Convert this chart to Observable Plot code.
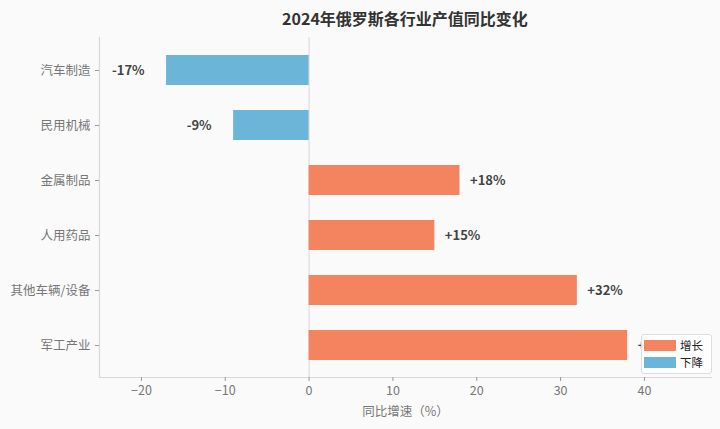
<!DOCTYPE html>
<html><head><meta charset="utf-8">
<script src="https://cdn.jsdelivr.net/npm/d3@7"></script>
<script src="https://cdn.jsdelivr.net/npm/@observablehq/plot@0.6"></script>
<style>
html,body{margin:0;padding:0;background:#fafafa;}
#wrap{position:relative;width:720px;height:429px;background:#fafafa;font-family:"Noto Sans CJK SC","Noto Sans",sans-serif;overflow:hidden;}
#title{position:absolute;left:99px;top:0;height:32px;line-height:36px;width:612px;text-align:center;font-size:16px;font-weight:bold;color:#333;}
#chart{position:absolute;left:0;top:32px;}
#chart svg{display:block;}
#legend{position:absolute;left:641px;top:334px;width:69px;height:38px;border:1px solid #ddd;border-radius:3px;background:rgba(255,255,255,0.85);font-size:11.5px;color:#222;}
.li{position:absolute;left:2px;height:12px;display:flex;align-items:center;}
.sw{width:32px;height:11px;margin-right:4px;}
</style></head>
<body><div id="wrap"><div id="title">2024年俄罗斯各行业产值同比变化</div><div id="chart"></div>
<div id="legend"></div></div>
<script>
const categories = ["汽车制造","民用机械","金属制品","人用药品","其他车辆/设备","军工产业"];
const values = [-17,-9,18,15,32,38];
const xTicks = [-20,-10,0,10,20,30,40];
const xDomain = [-25,48];
const legendLabels = ["增长","下降"];
const colorUp = "#F4845F", colorDown = "#6BB5D9";
const data = categories.map((c,i)=>({category:c,value:values[i]}));
const fmt = v => (v>0?"+":"")+v+"%";

const chart = Plot.plot({
  width:720, height:397, marginLeft:99, marginRight:9, marginTop:5, marginBottom:52,
  style:{background:"#fafafa", fontFamily:"'Noto Sans CJK SC','Noto Sans',sans-serif", fontSize:"12px", color:"#777"},
  x:{domain:xDomain, label:null},
  y:{domain:categories, paddingInner:0.46, paddingOuter:0.27, label:null},
  marks:[
    Plot.frame({anchor:"left", stroke:"#d8d8d8", strokeWidth:1.2}),
    Plot.frame({anchor:"bottom", stroke:"#d8d8d8", strokeWidth:1.2}),
    Plot.ruleX([0], {stroke:"#dcdcdc", strokeWidth:1.2}),
    Plot.barX(data, {x:"value", y:"category", fill:d=>d.value>=0?colorUp:colorDown}),
    Plot.text(data.filter(d=>d.value<0), {x:"value", y:"category", text:d=>fmt(d.value), textAnchor:"end", dx:-22, fontWeight:"bold", fill:"#444", fontSize:13}),
    Plot.text(data.filter(d=>d.value>=0), {x:"value", y:"category", text:d=>fmt(d.value), textAnchor:"start", dx:10, fontWeight:"bold", fill:"#444", fontSize:13}),
    Plot.axisX({ticks:xTicks, tickSize:4, tickPadding:5, stroke:"#999", fill:"#777", label:null, fontSize:12.5}),
    Plot.axisY({tickSize:4, tickPadding:5, stroke:"#999", fill:"#777", label:null, fontSize:12.5}),
    Plot.text(["同比增速（%）"], {frameAnchor:"bottom", lineAnchor:"middle", dy:34, fill:"#777", fontSize:12.5})
  ]
});
document.getElementById("chart").appendChild(chart);

const lg = document.getElementById("legend");
[colorUp,colorDown].forEach((c,i)=>{
  const d = document.createElement("div");
  d.className="li"; d.style.top = (4+i*17)+"px";
  d.innerHTML = `<span class="sw" style="background:${c}"></span><span>${legendLabels[i]}</span>`;
  lg.appendChild(d);
});
</script></body></html>
